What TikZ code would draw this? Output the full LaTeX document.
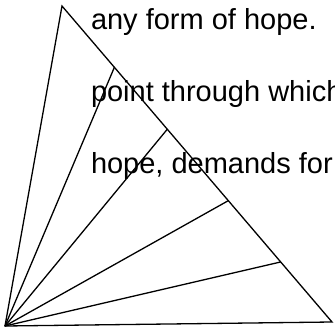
\documentclass[tikz,border=0pt]{standalone}
\usepackage{fontspec}
\setmainfont{Liberation Sans}
\usetikzlibrary{calc}
\tikzset{
  edge/.style={draw=black, line width=1.3pt, line join=miter},
  txt/.style={anchor=base west, inner sep=0pt, outer sep=0pt, font=\fontsize{29}{34}\selectfont, text=black}
}
\begin{document}
\begin{tikzpicture}[x=1pt,y=-1pt]
\useasboundingbox (0,0) rectangle (335,329);
\clip (0,0) rectangle (335,329);
\coordinate (bl) at (5,326);
\coordinate (top) at (62,6);
\coordinate (br) at (332,322);
\coordinate (p1) at ($(top)!0.194!(br)$);
\coordinate (p2) at ($(top)!0.39!(br)$);
\coordinate (p3) at ($(top)!0.616!(br)$);
\coordinate (p4) at ($(top)!0.81!(br)$);
\draw[edge] (bl) -- (top) -- (br) -- cycle;
\draw[edge] (bl) -- (p1);
\draw[edge] (bl) -- (p2);
\draw[edge] (bl) -- (p3);
\draw[edge] (bl) -- (p4);
\node[txt] (t1) at (91,30) {any form of hope.};
\node[txt] (t2) at (91,101.5) {point through which};
\node[txt] (t3) at (91,173) {hope, demands for};
\end{tikzpicture}
\end{document}
